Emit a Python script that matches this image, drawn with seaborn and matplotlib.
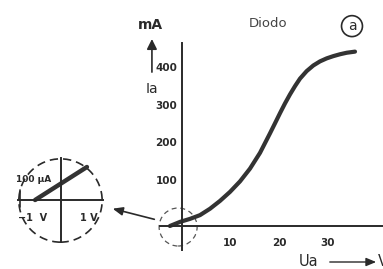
import numpy as np
import pandas as pd
import matplotlib
matplotlib.use("Agg")
import matplotlib.pyplot as plt
from matplotlib.patches import Circle, Ellipse
import seaborn as sns

# diode characteristic, Ua in V, Ia in mA
ua_volts = [-2.5, -0.4, 1.65, 3.71, 5.77, 7.84, 9.90, 11.96, 14.02, 16.08, 17.11,
            18.14, 19.18, 20.21, 21.24, 22.27, 23.30, 24.33, 25.7, 27.07, 28.45,
            29.83, 31.2, 32.58, 33.96, 35.67]
ia_milliamps = [0, 11, 19, 29, 46, 67, 91, 119, 153, 195, 221,
                247, 274, 301, 327, 351, 373, 393, 413, 428, 439,
                447, 453, 458, 462, 465]

x_ticks = [10, 20, 30]
y_ticks = [100, 200, 300, 400]

# zoomed-in detail around the origin (V, µA)
inset_volts = [-1.08, 1.08]
inset_microamps = [0, 165]

sns.set_style("white")
plt.rcParams["font.family"] = ["DejaVu Sans"]

ink = "#2a2a2a"
fig = plt.figure(figsize=(3.83, 2.69), dpi=100)
ax = fig.add_axes([0, 0, 1, 1])

# map pixels: origin at (182, 226), 4.85 px per V, 0.375 px per mA
ax.set_xlim((0 - 182) / 4.85, (383 - 182) / 4.85)
ax.set_ylim((226 - 269) / 0.375, (226 - 0) / 0.375)

df = pd.DataFrame({"Ua": ua_volts, "Ia": ia_milliamps})
sns.lineplot(data=df, x="Ua", y="Ia", ax=ax, color="#333333", lw=3.0, sort=False,
             solid_capstyle="round", solid_joinstyle="round")

for side in ["top", "right"]:
    ax.spines[side].set_visible(False)
ax.spines["left"].set_position(("data", 0))
ax.spines["bottom"].set_position(("data", 0))
ax.spines["left"].set_bounds(-64, 488)
ax.spines["bottom"].set_bounds(-4.5, 42)
for side in ["left", "bottom"]:
    ax.spines[side].set_color(ink)
    ax.spines[side].set_linewidth(1.4)

ax.set_xticks(x_ticks)
ax.set_yticks(y_ticks)
ax.set_xticklabels([])
ax.set_yticklabels([])
ax.tick_params(axis="both", direction="out", color=ink, width=1.2)
ax.tick_params(axis="x", length=4)
ax.tick_params(axis="y", length=6)
ax.set_xlabel("")
ax.set_ylabel("")

for t in x_ticks:
    ax.text(t, -45, str(t), ha="center", va="center", fontsize=7.5,
            fontweight="bold", color=ink)
for t in y_ticks:
    ax.text(-1.0, t + 21, str(t), ha="right", va="center", fontsize=7.5,
            fontweight="bold", color=ink)

# axis captions
ax.text(-6.6, 536, "mA", ha="center", va="center", fontsize=10, fontweight="bold", color=ink)
ax.annotate("", xy=(-6.2, 506), xytext=(-6.2, 403),
            arrowprops=dict(arrowstyle="-|>,head_length=0.6,head_width=0.3", color=ink, lw=1.2))
ax.text(-6.2, 365, "Ia", ha="center", va="center", fontsize=10, color=ink)
ax.text(17.7, 539, "Diodo", ha="center", va="center", fontsize=9.5, color="#444444")
ax.text(35.05, 533, "a", ha="center", va="center", fontsize=10, color=ink,
        bbox=dict(boxstyle="circle,pad=0.25", fc="none", ec=ink, lw=1.2))
ax.text(26.0, -96, "Ua", ha="center", va="center", fontsize=10.5, color=ink)
ax.annotate("", xy=(40.6, -96), xytext=(29.9, -96),
            arrowprops=dict(arrowstyle="-|>,head_length=0.6,head_width=0.25", color=ink, lw=1.0))
ax.text(40.4, -96, "V", ha="left", va="center", fontsize=10.5, color=ink)

# dashed circle round the origin and the pointer to the detail
ax.add_patch(Ellipse((-0.8, -2.7), 38 / 4.85, 38 / 0.375, fill=False, ec="#555555",
                     lw=0.9, ls=(0, (4, 3))))
ax.annotate("", xy=(-14.85, 48), xytext=(-5.15, 16),
            arrowprops=dict(arrowstyle="-|>,head_length=0.6,head_width=0.25", color=ink, lw=1.2))

# detail axes
ins = fig.add_axes([18 / 383, (269 - 243) / 269, 85 / 383, 85 / 269])
ins.set_xlim((18 - 61) / 24, (103 - 61) / 24)
ins.set_ylim((200 - 243) * 5, (200 - 158) * 5)
ins.set_facecolor("none")
ins_df = pd.DataFrame({"U": inset_volts, "I": inset_microamps})
sns.lineplot(data=ins_df, x="U", y="I", ax=ins, color="#333333", lw=3.2)
for side in ["top", "right"]:
    ins.spines[side].set_visible(False)
ins.spines["left"].set_position(("data", 0))
ins.spines["bottom"].set_position(("data", 0))
ins.spines["left"].set_bounds(-210, 210)
ins.spines["bottom"].set_bounds((18 - 61) / 24, (103 - 61) / 24)
for side in ["left", "bottom"]:
    ins.spines[side].set_color(ink)
    ins.spines[side].set_linewidth(1.4)
ins.set_xticks([-1, 1])
ins.set_yticks([])
ins.set_xticklabels([])
ins.tick_params(axis="x", direction="out", length=5, width=1.2, color=ink)
ins.set_xlabel("")
ins.set_ylabel("")
ins.plot([(20 - 61) / 24] * 2, [-35, 50], color=ink, lw=1.2)
ins.text(-1.2, -90, "\u22121  V", ha="center", va="center", fontsize=7, fontweight="bold", color=ink)
ins.text(1.15, -90, "1 V", ha="center", va="center", fontsize=7, fontweight="bold", color=ink)
ins.text(-1.15, 100, "100 \u00b5A", ha="center", va="center", fontsize=6.5, fontweight="bold",
         color=ink, clip_on=False)
ins.add_patch(Circle((0.5, 0.5), 0.49, transform=ins.transAxes, fill=False, ec=ink,
                     lw=1.2, ls=(0, (5, 3)), clip_on=False))

fig.savefig("out.png", dpi=100)
